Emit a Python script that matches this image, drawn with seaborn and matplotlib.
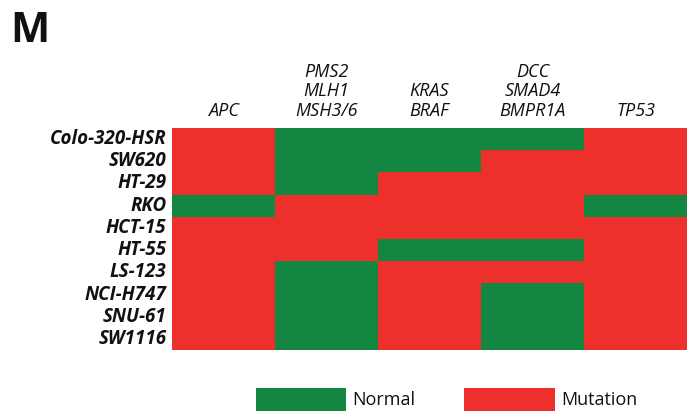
import matplotlib
matplotlib.use("Agg")
import matplotlib.pyplot as plt
import seaborn as sns
import pandas as pd
from matplotlib.colors import ListedColormap
from matplotlib.patches import Patch

# mutation status per cell line: 1 = mutation, 0 = normal
cell_lines = ["Colo-320-HSR", "SW620", "HT-29", "RKO", "HCT-15",
              "HT-55", "LS-123", "NCI-H747", "SNU-61", "SW1116"]
genes = ["APC", "PMS2\nMLH1\nMSH3/6", "KRAS\nBRAF", "DCC\nSMAD4\nBMPR1A", "TP53"]
apc = [1, 1, 1, 0, 1, 1, 1, 1, 1, 1]
mmr = [0, 0, 0, 1, 1, 1, 0, 0, 0, 0]
kras_braf = [0, 0, 1, 1, 1, 0, 1, 1, 1, 1]
dcc_smad4 = [0, 1, 1, 1, 1, 0, 1, 0, 0, 0]
tp53 = [1, 1, 1, 0, 1, 1, 1, 1, 1, 1]
status_labels = ["Normal", "Mutation"]

GREEN = "#138641"
RED = "#EE302D"
INK = "#111111"

sns.set_theme(style="white")
plt.rcParams["font.family"] = ["Open Sans", "DejaVu Sans"]
plt.rcParams["text.color"] = INK

df = pd.DataFrame(dict(zip(genes, [apc, mmr, kras_braf, dcc_smad4, tp53])),
                  index=cell_lines)

fig = plt.figure(figsize=(6.87, 4.11), dpi=100)
ax = fig.add_axes([172 / 687, 1 - 350 / 411, 515 / 687, 222 / 411])
sns.heatmap(df, ax=ax, cmap=ListedColormap([GREEN, RED]), vmin=0, vmax=1,
            cbar=False, linewidths=0)

ax.xaxis.tick_top()
ax.tick_params(length=0, pad=6, colors=INK)
ax.set_xticklabels(genes, rotation=0, fontsize=13, fontstyle="italic",
                   linespacing=1.1, va="bottom", color=INK)
ax.set_yticklabels(cell_lines, rotation=0, fontsize=13.5, fontstyle="italic",
                   fontweight="bold", color=INK)
ax.tick_params(axis="y", pad=4)
ax.set_xlabel("")
ax.set_ylabel("")

fig.text(10 / 687, 1 - 42 / 411, "M", fontsize=30, fontweight="bold", color=INK)

handles = [Patch(facecolor=GREEN, edgecolor="none"),
           Patch(facecolor=RED, edgecolor="none")]
fig.legend(handles, status_labels, loc="lower left",
           bbox_to_anchor=(256 / 687, 0), ncol=2, frameon=False,
           fontsize=13, handlelength=5.0, handleheight=1.6,
           handletextpad=0.35, columnspacing=2.7, borderpad=0,
           borderaxespad=0)

fig.savefig("out.png", dpi=100)
